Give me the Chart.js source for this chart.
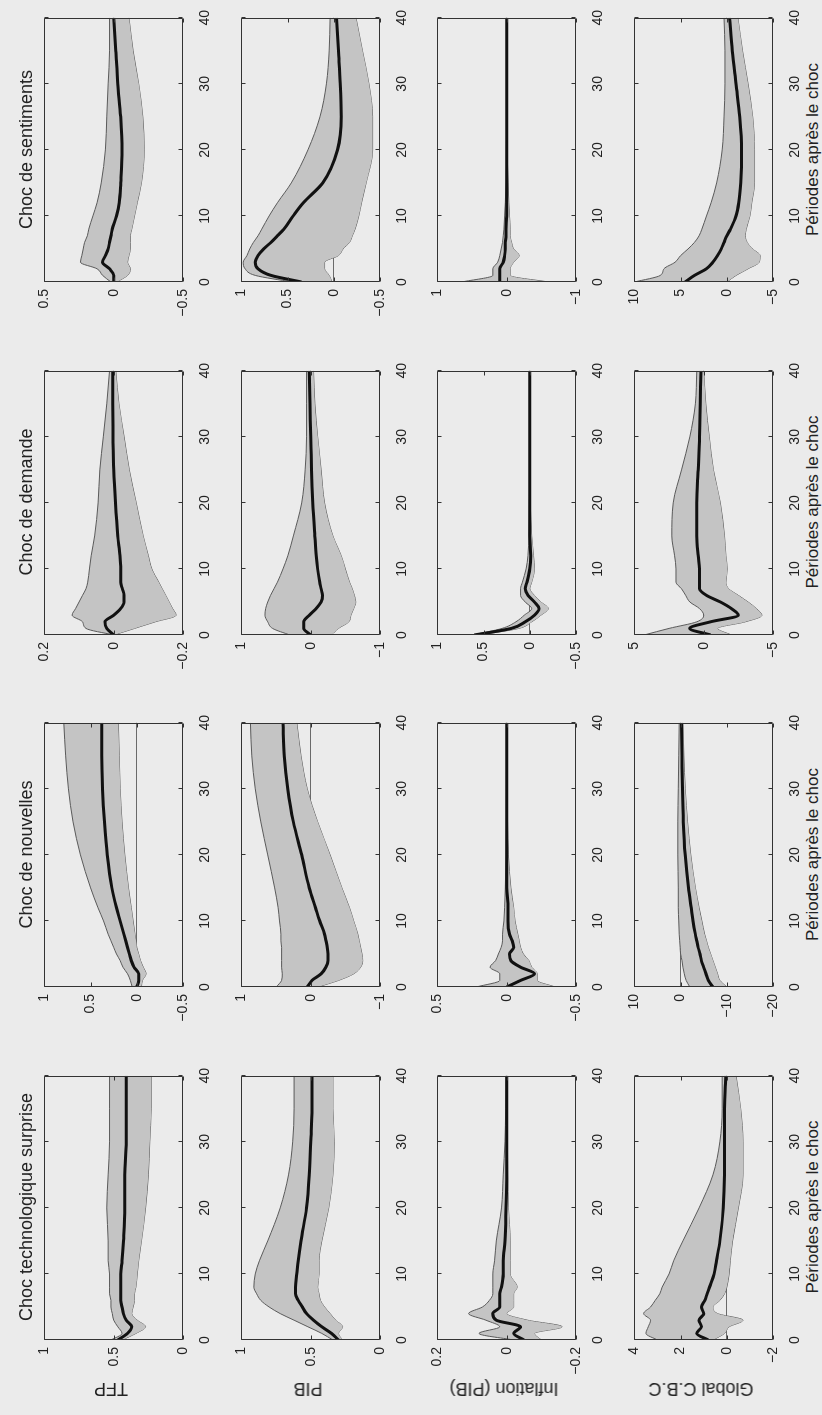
<!DOCTYPE html>
<html>
<head>
<meta charset="utf-8">
<script src="https://cdn.jsdelivr.net/npm/chart.js@4.4.0/dist/chart.umd.min.js"></script>
<style>
  html, body { margin: 0; padding: 0; background: #ebebeb; }
  body { width: 822px; height: 1415px; overflow: hidden; position: relative; }
  /* the figure is drawn landscape, then turned a quarter turn like the scanned page */
  #fig { position: absolute; left: 0; top: 0; width: 1415px; height: 822px;
         transform-origin: 0 0; transform: translate(0px, 1415px) rotate(-90deg);
         font-family: "Liberation Sans", Arial, sans-serif; color: #222; }
  #fig canvas { position: absolute; }
  .ttl, .xl { position: absolute; text-align: center; font-size: 18px; line-height: 20px; white-space: nowrap; }
  .xl { font-size: 17px; }
  .yl { position: absolute; font-size: 18px; line-height: 20px; white-space: nowrap;
        transform: translate(-50%, -50%) rotate(-90deg); }
</style>
</head>
<body>
<div id="fig"></div>
<script>
const periods = [0, 1, 2, 3, 4, 5, 6, 7, 8, 10, 12, 15, 20, 25, 30, 35, 40];
const shocks = ['Choc technologique surprise', 'Choc de nouvelles', 'Choc de demande', 'Choc de sentiments'];
const variables = ['TFP', 'PIB', 'Inflation (PIB)', 'Global C.B.C'];
const xLabel = 'Périodes après le choc';

// value axis limits and tick steps, one row per variable, one entry per shock
const yLimits = [
  [[0, 1], [-0.5, 1], [-0.2, 0.2], [-0.5, 0.5]],
  [[0, 1], [-1, 1], [-1, 1], [-0.5, 1]],
  [[-0.2, 0.2], [-0.5, 0.5], [-0.5, 1], [-1, 1]],
  [[-2, 4], [-20, 10], [-5, 5], [-5, 10]]
];
const ySteps = [
  [0.5, 0.5, 0.2, 0.5],
  [0.5, 1, 1, 0.5],
  [0.2, 0.5, 0.5, 1],
  [2, 10, 5, 5]
];

// TFP
const tfpTechMean = [0.47, 0.40, 0.37, 0.41, 0.43, 0.44, 0.45, 0.45, 0.45, 0.45, 0.44, 0.43, 0.42, 0.42, 0.41, 0.41, 0.41];
const tfpTechUp   = [0.52, 0.44, 0.47, 0.50, 0.51, 0.52, 0.52, 0.53, 0.53, 0.53, 0.54, 0.54, 0.55, 0.54, 0.53, 0.53, 0.53];
const tfpTechLo   = [0.44, 0.34, 0.27, 0.33, 0.37, 0.36, 0.35, 0.35, 0.34, 0.33, 0.32, 0.30, 0.27, 0.25, 0.24, 0.23, 0.23];

const tfpNewsMean = [0.00, -0.02, -0.02, 0.03, 0.06, 0.08, 0.10, 0.12, 0.14, 0.18, 0.22, 0.27, 0.32, 0.35, 0.37, 0.38, 0.38];
const tfpNewsUp   = [0.05, 0.07, 0.10, 0.15, 0.18, 0.22, 0.25, 0.28, 0.31, 0.36, 0.42, 0.50, 0.61, 0.69, 0.74, 0.77, 0.79];
const tfpNewsLo   = [-0.05, -0.06, -0.10, -0.07, -0.04, -0.02, 0.00, 0.01, 0.02, 0.04, 0.06, 0.09, 0.13, 0.16, 0.18, 0.19, 0.20];

const tfpDemMean = [0.0, 0.02, 0.025, 0.0, -0.02, -0.03, -0.03, -0.025, -0.02, -0.02, -0.018, -0.012, -0.005, 0.0, 0.002, 0.003, 0.003];
const tfpDemUp   = [0.0, 0.08, 0.09, 0.12, 0.11, 0.10, 0.09, 0.08, 0.075, 0.07, 0.065, 0.055, 0.045, 0.04, 0.03, 0.02, 0.012];
const tfpDemLo   = [0.0, -0.06, -0.12, -0.18, -0.17, -0.16, -0.15, -0.14, -0.13, -0.11, -0.10, -0.085, -0.065, -0.045, -0.03, -0.015, -0.006];

const tfpSentMean = [0.0, 0.0, 0.03, 0.08, 0.06, 0.04, 0.03, 0.02, 0.01, -0.02, -0.04, -0.05, -0.06, -0.05, -0.03, -0.015, 0.0];
const tfpSentUp   = [0.02, 0.08, 0.12, 0.24, 0.23, 0.22, 0.21, 0.19, 0.18, 0.15, 0.12, 0.09, 0.06, 0.05, 0.04, 0.03, 0.03];
const tfpSentLo   = [-0.02, -0.10, -0.12, -0.10, -0.11, -0.12, -0.12, -0.12, -0.13, -0.15, -0.17, -0.20, -0.22, -0.21, -0.18, -0.14, -0.11];

// PIB
const pibTechMean = [0.30, 0.35, 0.42, 0.48, 0.53, 0.56, 0.59, 0.61, 0.61, 0.60, 0.59, 0.57, 0.53, 0.51, 0.50, 0.49, 0.49];
const pibTechUp   = [0.34, 0.42, 0.52, 0.62, 0.72, 0.80, 0.86, 0.89, 0.91, 0.90, 0.87, 0.81, 0.72, 0.66, 0.63, 0.62, 0.62];
const pibTechLo   = [0.27, 0.30, 0.27, 0.32, 0.36, 0.40, 0.43, 0.44, 0.45, 0.44, 0.44, 0.42, 0.37, 0.34, 0.33, 0.34, 0.34];

const pibNewsMean = [0.05, -0.02, -0.15, -0.22, -0.25, -0.25, -0.24, -0.22, -0.20, -0.13, -0.07, 0.02, 0.13, 0.25, 0.33, 0.38, 0.40];
const pibNewsUp   = [0.50, 0.42, 0.41, 0.42, 0.42, 0.42, 0.42, 0.43, 0.43, 0.45, 0.47, 0.52, 0.62, 0.72, 0.80, 0.85, 0.87];
const pibNewsLo   = [-0.10, -0.40, -0.62, -0.72, -0.75, -0.74, -0.72, -0.70, -0.68, -0.62, -0.56, -0.45, -0.28, -0.10, 0.05, 0.14, 0.20];

const pibDemMean = [0.0, 0.10, 0.10, 0.02, -0.08, -0.15, -0.17, -0.15, -0.13, -0.10, -0.08, -0.06, -0.03, -0.01, 0.0, 0.01, 0.02];
const pibDemUp   = [0.30, 0.55, 0.62, 0.66, 0.65, 0.62, 0.58, 0.53, 0.48, 0.40, 0.33, 0.25, 0.13, 0.08, 0.06, 0.06, 0.06];
const pibDemLo   = [-0.30, -0.40, -0.55, -0.58, -0.62, -0.65, -0.63, -0.60, -0.56, -0.50, -0.44, -0.32, -0.20, -0.15, -0.10, -0.06, -0.04];

const pibSentMean = [0.35, 0.68, 0.82, 0.85, 0.82, 0.76, 0.68, 0.61, 0.54, 0.44, 0.33, 0.12, -0.04, -0.08, -0.07, -0.05, -0.03];
const pibSentUp   = [0.45, 0.85, 0.96, 0.98, 0.94, 0.91, 0.87, 0.82, 0.78, 0.70, 0.61, 0.46, 0.28, 0.15, 0.08, 0.05, 0.04];
const pibSentLo   = [0.02, 0.05, 0.10, 0.10, -0.05, -0.10, -0.17, -0.20, -0.23, -0.27, -0.30, -0.35, -0.42, -0.42, -0.38, -0.31, -0.24];

// Inflation (PIB)
const infTechMean = [-0.05, -0.02, -0.04, 0.03, 0.04, 0.02, 0.02, 0.02, 0.015, 0.01, 0.01, 0.005, 0.002, 0.0, 0.0, 0.0, 0.0];
const infTechUp   = [-0.02, 0.08, 0.02, 0.06, 0.11, 0.07, 0.05, 0.04, 0.04, 0.04, 0.035, 0.03, 0.015, 0.01, 0.005, 0.003, 0.002];
const infTechLo   = [-0.10, -0.08, -0.16, -0.06, 0.0, -0.02, -0.02, -0.02, -0.03, -0.01, -0.01, -0.01, -0.005, -0.003, -0.002, -0.001, -0.001];

const infNewsMean = [0.0, -0.10, -0.20, -0.10, -0.03, -0.02, -0.05, -0.04, -0.02, -0.01, -0.01, 0.0, 0.0, 0.0, 0.0, 0.0, 0.0];
const infNewsUp   = [0.22, 0.05, 0.05, 0.12, 0.08, 0.06, 0.04, 0.03, 0.03, 0.02, 0.015, 0.01, 0.005, 0.003, 0.002, 0.001, 0.0];
const infNewsLo   = [-0.35, -0.22, -0.22, -0.18, -0.16, -0.12, -0.10, -0.09, -0.08, -0.06, -0.05, -0.03, -0.012, -0.006, -0.003, -0.002, -0.001];

const infDemMean = [0.60, 0.20, 0.05, -0.05, -0.10, -0.05, 0.02, 0.05, 0.03, 0.0, -0.01, 0.0, 0.0, 0.0, 0.0, 0.0, 0.0];
const infDemUp   = [0.62, 0.30, 0.15, 0.06, -0.02, 0.05, 0.10, 0.10, 0.08, 0.04, 0.02, 0.01, 0.005, 0.0, 0.0, 0.0, 0.0];
const infDemLo   = [0.55, 0.12, -0.02, -0.12, -0.20, -0.12, -0.05, 0.0, -0.02, -0.05, -0.04, -0.02, -0.005, 0.0, 0.0, 0.0, 0.0];

const infSentMean = [0.10, 0.10, 0.10, 0.05, 0.03, 0.02, 0.02, 0.01, 0.01, 0.0, 0.0, 0.0, 0.0, 0.0, 0.0, 0.0, 0.0];
const infSentUp   = [0.65, 0.20, 0.20, 0.13, 0.10, 0.08, 0.06, 0.05, 0.04, 0.03, 0.02, 0.01, 0.005, 0.0, 0.0, 0.0, 0.0];
const infSentLo   = [-0.60, -0.05, -0.05, -0.10, -0.18, -0.10, -0.07, -0.05, -0.05, -0.04, -0.03, -0.02, -0.005, 0.0, 0.0, 0.0, 0.0];

// Global C.B.C
const cbcTechMean = [0.8, 1.3, 1.1, 1.2, 1.0, 1.1, 0.95, 0.85, 0.75, 0.55, 0.45, 0.3, 0.15, 0.1, 0.1, 0.1, 0.05];
const cbcTechUp   = [3.0, 3.5, 3.4, 3.3, 3.6, 3.3, 3.1, 2.9, 2.8, 2.5, 2.3, 1.9, 1.2, 0.6, 0.3, 0.2, 0.2];
const cbcTechLo   = [0.6, 0.1, -0.1, -0.7, 0.4, 0.6, 0.3, 0.1, 0.0, -0.1, -0.15, -0.25, -0.5, -0.7, -0.7, -0.6, -0.4];

const cbcNewsMean = [-7.0, -6.0, -5.5, -5.0, -4.5, -4.2, -3.8, -3.5, -3.2, -2.7, -2.3, -1.7, -1.0, -0.6, -0.4, -0.3, -0.2];
const cbcNewsUp   = [-2.0, -1.2, -0.8, -0.5, -0.3, 0.0, 0.1, 0.2, 0.3, 0.4, 0.5, 0.5, 0.6, 0.6, 0.5, 0.4, 0.3];
const cbcNewsLo   = [-10.0, -8.5, -8.0, -7.5, -7.0, -6.5, -6.0, -5.6, -5.2, -4.6, -4.0, -3.2, -2.2, -1.5, -1.0, -0.7, -0.5];

const cbcDemMean = [-0.5, 1.0, -0.5, -2.5, -2.0, -1.2, -0.2, 0.3, 0.3, 0.3, 0.4, 0.5, 0.5, 0.4, 0.3, 0.25, 0.2];
const cbcDemUp   = [4.3, 2.5, 0.5, 0.0, 0.3, 1.0, 1.3, 1.6, 2.0, 2.0, 2.1, 2.3, 2.2, 1.6, 1.0, 0.6, 0.5];
const cbcDemLo   = [-2.0, -1.0, -3.0, -4.2, -3.8, -3.2, -2.5, -1.8, -1.6, -1.7, -1.6, -1.5, -1.2, -0.7, -0.4, -0.15, 0.0];

const cbcSentMean = [4.5, 3.5, 2.2, 1.5, 1.0, 0.6, 0.3, 0.0, -0.4, -1.0, -1.3, -1.5, -1.6, -1.4, -1.0, -0.6, -0.3];
const cbcSentUp   = [10.0, 7.2, 6.8, 5.6, 5.0, 4.2, 3.5, 3.0, 2.7, 2.2, 1.7, 1.1, 0.5, 0.3, 0.2, 0.2, 0.3];
const cbcSentLo   = [0.0, -1.0, -2.3, -3.5, -3.6, -2.8, -2.2, -2.0, -2.1, -2.5, -2.7, -3.0, -3.0, -2.8, -2.3, -1.7, -1.2];

const panels = [
  [[tfpTechMean, tfpTechUp, tfpTechLo], [tfpNewsMean, tfpNewsUp, tfpNewsLo], [tfpDemMean, tfpDemUp, tfpDemLo], [tfpSentMean, tfpSentUp, tfpSentLo]],
  [[pibTechMean, pibTechUp, pibTechLo], [pibNewsMean, pibNewsUp, pibNewsLo], [pibDemMean, pibDemUp, pibDemLo], [pibSentMean, pibSentUp, pibSentLo]],
  [[infTechMean, infTechUp, infTechLo], [infNewsMean, infNewsUp, infNewsLo], [infDemMean, infDemUp, infDemLo], [infSentMean, infSentUp, infSentLo]],
  [[cbcTechMean, cbcTechUp, cbcTechLo], [cbcNewsMean, cbcNewsUp, cbcNewsLo], [cbcDemMean, cbcDemUp, cbcDemLo], [cbcSentMean, cbcSentUp, cbcSentLo]]
];

// layout of the landscape figure (before the quarter turn)
const colLeft = [75, 427.5, 780, 1132.5];
const rowTop = [39, 235.5, 432, 628.5];
const boxW = 266, boxH = 144;
const AL = 42, AR = 12, AT = 10, AB = 30;

const BAND = '#c4c4c4', EDGE = '#5a5a5a', MEAN = '#111111', ZERO = '#6a6a6a', FRAME = '#333333', TEXT = '#222222';
const FONT = { family: '"Liberation Sans", Arial, sans-serif', size: 14 };

function fmt(v) {
  if (Math.abs(v) < 1e-9) return '0';
  const s = String(+Math.abs(v).toFixed(2));
  return v < 0 ? '\u2212' + s : s;
}

function toXY(vals) {
  return vals.map((v, i) => ({ x: periods[i], y: v }));
}

const framePlugin = {
  id: 'frame',
  afterDraw(chart) {
    const { ctx, chartArea: a, scales } = chart;
    const l = Math.round(a.left) + 0.5, t = Math.round(a.top) + 0.5;
    const r = Math.round(a.right) - 0.5, b = Math.round(a.bottom) - 0.5;
    ctx.save();
    ctx.strokeStyle = FRAME;
    ctx.lineWidth = 1;
    ctx.beginPath();
    ctx.rect(l, t, r - l, b - t);
    scales.x.ticks.forEach(tk => {
      const px = Math.round(scales.x.getPixelForValue(tk.value)) + 0.5;
      ctx.moveTo(px, b); ctx.lineTo(px, b - 4);
      ctx.moveTo(px, t); ctx.lineTo(px, t + 4);
    });
    scales.y.ticks.forEach(tk => {
      const py = Math.round(scales.y.getPixelForValue(tk.value)) + 0.5;
      ctx.moveTo(l, py); ctx.lineTo(l + 4, py);
      ctx.moveTo(r, py); ctx.lineTo(r - 4, py);
    });
    ctx.stroke();
    ctx.restore();
  }
};

const fig = document.getElementById('fig');

function addText(cls, text, css) {
  const d = document.createElement('div');
  d.className = cls;
  d.textContent = text;
  Object.assign(d.style, css);
  fig.appendChild(d);
}

variables.forEach((variable, r) => {
  shocks.forEach((shock, c) => {
    const [mean, up, lo] = panels[r][c];
    const [ymin, ymax] = yLimits[r][c];
    const cv = document.createElement('canvas');
    cv.width = boxW + AL + AR;
    cv.height = boxH + AT + AB;
    cv.style.left = (colLeft[c] - AL) + 'px';
    cv.style.top = (rowTop[r] - AT) + 'px';
    fig.appendChild(cv);

    new Chart(cv, {
      type: 'line',
      data: {
        datasets: [
          { data: toXY(up), borderColor: EDGE, borderWidth: 1, backgroundColor: BAND, fill: '+1',
            pointRadius: 0, cubicInterpolationMode: 'monotone', order: 2 },
          { data: toXY(lo), borderColor: EDGE, borderWidth: 1, fill: false,
            pointRadius: 0, cubicInterpolationMode: 'monotone', order: 2 },
          { data: toXY(mean), borderColor: MEAN, borderWidth: 3, fill: false,
            pointRadius: 0, cubicInterpolationMode: 'monotone', order: 1 }
        ]
      },
      options: {
        responsive: false,
        animation: false,
        devicePixelRatio: 1,
        layout: { padding: { left: 0, right: AR, top: AT, bottom: 0 } },
        plugins: { legend: { display: false }, tooltip: { enabled: false }, title: { display: false } },
        scales: {
          x: {
            type: 'linear', min: 0, max: 40,
            ticks: { stepSize: 10, color: TEXT, font: FONT, padding: 6, maxRotation: 0, autoSkip: false },
            grid: { display: false },
            border: { display: false },
            afterFit: s => { s.height = AB; }
          },
          y: {
            type: 'linear', min: ymin, max: ymax,
            ticks: { stepSize: ySteps[r][c], color: TEXT, font: FONT, padding: 7, callback: fmt },
            grid: {
              drawTicks: false, lineWidth: 1,
              color: ctx => (ctx.tick && Math.abs(ctx.tick.value) < 1e-9 && ymin < 0) ? ZERO : 'rgba(0,0,0,0)'
            },
            border: { display: false },
            afterFit: s => { s.width = AL; }
          }
        }
      },
      plugins: [framePlugin]
    });

    if (r === 0) addText('ttl', shock, { left: colLeft[c] + 'px', width: boxW + 'px', top: '16px' });
    if (r === 3) addText('xl', xLabel, { left: colLeft[c] + 'px', width: boxW + 'px', top: (rowTop[r] + boxH + 30) + 'px' });
  });
  addText('yl', variable, { left: '26px', top: (rowTop[r] + boxH / 2) + 'px' });
});
</script>
</body>
</html>
